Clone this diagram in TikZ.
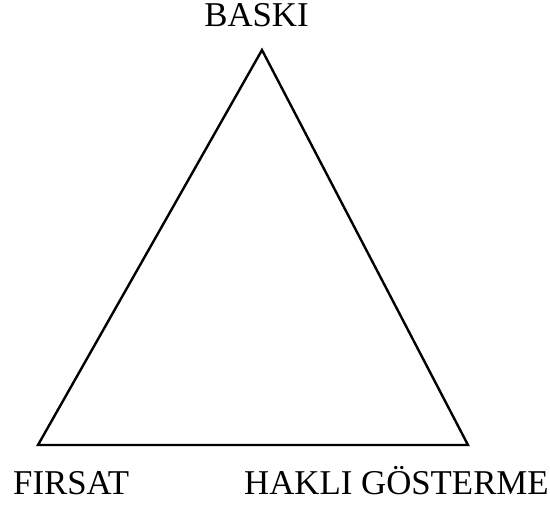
\documentclass[tikz,border=0pt]{standalone}
\usepackage{fontspec}
\setmainfont{Liberation Serif}
\usetikzlibrary{positioning}

\tikzset{corner/.style={inner sep=0pt, font=\fontsize{34.8}{40}\selectfont}}

\begin{document}
\begin{tikzpicture}[line width=2.4pt, line join=miter, x=1pt, y=1pt]
  \useasboundingbox (0,0) rectangle (550,506);
  \coordinate (baski) at (262,456);
  \coordinate (firsat) at (38,61);
  \coordinate (hakli) at (468,61);
  \draw (baski) -- (hakli) -- (firsat) -- cycle;
  \node[corner, anchor=base] (baskilbl) at (256.5,479) {BASKI};
  \node[corner, anchor=base west] (firsatlbl) at (12,11) {FIRSAT};
  \node[corner, anchor=base west] (haklilbl) at (243,11) {HAKLI GÖSTERME};
\end{tikzpicture}
\end{document}
